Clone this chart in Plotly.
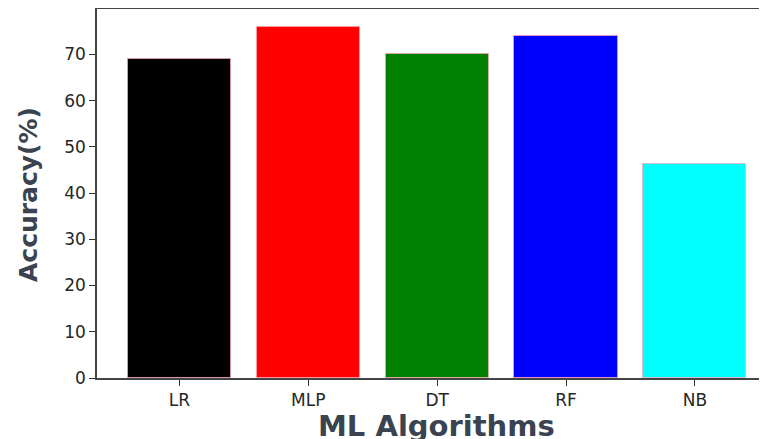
import plotly.graph_objects as go

algorithms = ["LR", "MLP", "DT", "RF", "NB"]
accuracy = [68.9, 75.9, 70.0, 74.0, 46.2]
bar_colors = ["black", "red", "green", "blue", "cyan"]
y_ticks = [0, 10, 20, 30, 40, 50, 60, 70]

fig = go.Figure()
fig.add_trace(go.Bar(
    x=list(range(len(algorithms))),
    y=accuracy,
    width=0.8,
    marker=dict(color=bar_colors, line=dict(color="rgba(255,160,180,0.7)", width=1)),
))

# page body has an 8px default margin; compensate so the plot lands where the reference has it
OFF = 8
W, H = 767 - OFF, 439 - OFF
L, R, T, B = 97 - OFF, 0, 9 - OFF, 61

fig.update_layout(
    width=W, height=H,
    margin=dict(l=L, r=R, t=T, b=B, pad=0),
    plot_bgcolor="white", paper_bgcolor="white",
    showlegend=False,
    bargap=0,
    font=dict(family="DejaVu Sans", size=17, color="#262626"),
)
fig.update_xaxes(
    range=[-0.64, 4.56],
    tickmode="array", tickvals=list(range(len(algorithms))), ticktext=algorithms,
    ticks="outside", ticklen=6, tickwidth=1.2, tickcolor="#333",
    showline=True, linecolor="#444", linewidth=1.5, mirror=True,
    showgrid=False, zeroline=False,
    tickfont=dict(size=17, color="#262626"),
)
fig.update_yaxes(
    range=[0, 79.8],
    tickmode="array", tickvals=y_ticks,
    ticks="outside", ticklen=6, tickwidth=1.2, tickcolor="#333",
    showline=True, linecolor="#444", linewidth=1.5,
    showgrid=False, zeroline=False,
    tickfont=dict(size=17, color="#262626"),
)

plot_w = W - L - R
plot_h = H - T - B
# target positions in window pixels
xt_cx, xt_top = 436.5, 407
yt_cx, yt_cy = 28, 195
fig.add_annotation(
    text="<b>ML Algorithms</b>", xref="paper", yref="paper",
    x=(xt_cx - OFF - L) / plot_w, y=-(xt_top - OFF - (H - B)) / plot_h,
    xanchor="center", yanchor="top", showarrow=False,
    font=dict(family="DejaVu Sans", size=29, color="#3a4350"),
)
fig.add_annotation(
    text="<b>Accuracy(%)</b>", xref="paper", yref="paper",
    x=-(L - (yt_cx - OFF)) / plot_w, y=(H - B - (yt_cy - OFF)) / plot_h,
    xanchor="center", yanchor="middle", showarrow=False, textangle=-90,
    font=dict(family="DejaVu Sans", size=25, color="#3a4350"),
)

fig.write_html("out.html")
